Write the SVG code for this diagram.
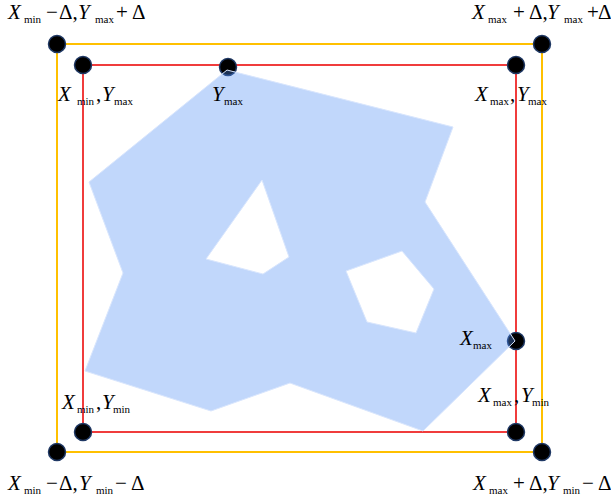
<svg xmlns="http://www.w3.org/2000/svg" width="611" height="501" viewBox="0 0 611 501">
<style>
.t{font-family:"Liberation Serif","Times New Roman",serif;font-size:21px;fill:#000}
.i{font-style:italic}
.s{font-size:11px;font-style:normal}
.dot{fill:#000;stroke:#1f3864;stroke-width:1.5}
.frame{fill:none;stroke-width:2}
</style>
<rect width="611" height="501" fill="#fff"/>
<g id="connectors">
<rect id="outer-box" class="frame" x="57" y="44" width="485" height="408" stroke="#ffc000"/>
<rect id="inner-box" class="frame" x="83" y="65" width="433" height="367" stroke="#f03c3c"/>
</g>
<g id="nodes">
<g id="n-tl-outer"><circle class="dot" cx="57" cy="44" r="8.5"/></g>
<g id="n-tl-inner"><circle class="dot" cx="83" cy="65" r="8.5"/></g>
<g id="n-ymax"><circle class="dot" cx="228" cy="67" r="8.5"/></g>
<g id="n-tr-inner"><circle class="dot" cx="516" cy="65" r="8.5"/></g>
<g id="n-tr-outer"><circle class="dot" cx="542" cy="44" r="8.5"/></g>
<g id="n-xmax"><circle class="dot" cx="516" cy="341" r="8.5"/></g>
<g id="n-br-inner"><circle class="dot" cx="516" cy="432" r="8.5"/></g>
<g id="n-bl-inner"><circle class="dot" cx="83" cy="432" r="8.5"/></g>
<g id="n-bl-outer"><circle class="dot" cx="57" cy="452" r="8.5"/></g>
<g id="n-br-outer"><circle class="dot" cx="542" cy="452" r="8.5"/></g>
</g>
<g id="region">
<path fill="#4e8df4" fill-opacity="0.35" fill-rule="evenodd" stroke="#d9e6fd" stroke-width="1"
 d="M227,70 L453,127 L425,202 L515,341 L423,431 L290,383 L211,411 L85,371 L123,273 L89,182 Z
 M262,180 L289,257 L263,274 L206,259 Z
 M402,251 L434,289 L416,333 L367,322 L346,271 Z"/>
</g>
<g id="labels">
<text class="t"><tspan class="i" x="8" y="19">X</tspan><tspan class="s" x="24" y="23">min</tspan><tspan x="46" y="19">−</tspan><tspan x="59" y="19">Δ,</tspan><tspan class="i" x="78" y="19">Y</tspan><tspan class="s" x="95" y="23">max</tspan><tspan x="116" y="19">+</tspan><tspan x="132" y="19">Δ</tspan></text>
<text class="t"><tspan class="i" x="472" y="19">X</tspan><tspan class="s" x="488" y="23">max</tspan><tspan x="513" y="19">+</tspan><tspan x="529" y="19">Δ,</tspan><tspan class="i" x="547" y="19">Y</tspan><tspan class="s" x="564" y="23">max</tspan><tspan x="587" y="19">+</tspan><tspan x="598" y="19">Δ</tspan></text>
<text class="t"><tspan class="i" x="58" y="101">X</tspan><tspan class="s" x="77" y="105">min</tspan><tspan x="96" y="101">,</tspan><tspan class="i" x="102" y="101">Y</tspan><tspan class="s" x="114" y="105">max</tspan></text>
<text class="t"><tspan class="i" x="212" y="101">Y</tspan><tspan class="s" x="224" y="105">max</tspan></text>
<text class="t"><tspan class="i" x="475" y="101">X</tspan><tspan class="s" x="490" y="105">max</tspan><tspan x="510" y="101">,</tspan><tspan class="i" x="517" y="101">Y</tspan><tspan class="s" x="528" y="105">max</tspan></text>
<text class="t"><tspan class="i" x="460" y="345">X</tspan><tspan class="s" x="473" y="349">max</tspan></text>
<text class="t"><tspan class="i" x="478" y="402">X</tspan><tspan class="s" x="493" y="406">max</tspan><tspan x="514" y="402">,</tspan><tspan class="i" x="521" y="402">Y</tspan><tspan class="s" x="532" y="406">min</tspan></text>
<text class="t"><tspan class="i" x="62" y="409">X</tspan><tspan class="s" x="77" y="413">min</tspan><tspan x="96" y="409">,</tspan><tspan class="i" x="102" y="409">Y</tspan><tspan class="s" x="113" y="413">min</tspan></text>
<text class="t"><tspan class="i" x="8" y="490">X</tspan><tspan class="s" x="24" y="494">min</tspan><tspan x="46" y="490">−</tspan><tspan x="59" y="490">Δ,</tspan><tspan class="i" x="79" y="490">Y</tspan><tspan class="s" x="96" y="494">min</tspan><tspan x="115" y="490">−</tspan><tspan x="131" y="490">Δ</tspan></text>
<text class="t"><tspan class="i" x="473" y="490">X</tspan><tspan class="s" x="489" y="494">max</tspan><tspan x="513" y="490">+</tspan><tspan x="529" y="490">Δ,</tspan><tspan class="i" x="547" y="490">Y</tspan><tspan class="s" x="563" y="494">min</tspan><tspan x="582" y="490">−</tspan><tspan x="598" y="490">Δ</tspan></text>
</g>
</svg>
